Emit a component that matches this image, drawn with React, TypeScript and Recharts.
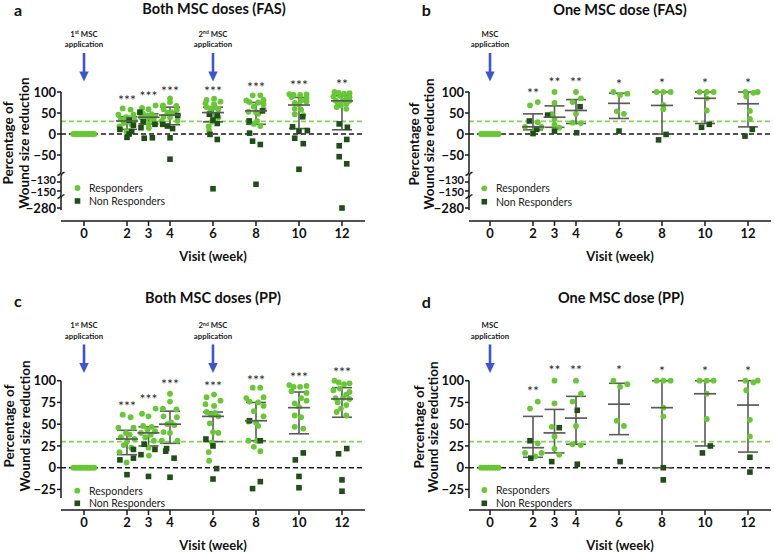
import React from 'react';
import { ScatterChart, Scatter, XAxis, YAxis, ReferenceLine, ReferenceDot, ErrorBar } from 'recharts';

const FONT = 'Lato, "Open Sans", "DejaVu Sans", sans-serif';
const LIGHT = '#67c734';
const DARK = '#1f4e16';
const BAR = '#5a5a5a';
const DASH_GREEN = '#84d456';
const BLUE = '#3c55d6';
const INK = '#1a1a1a';

type XY = [number, number];

// ---------- categories / ticks ----------
const visitTicks = [0, 2, 3, 4, 6, 8, 10, 12];
const summaryWeeks = [2, 3, 4, 6, 8, 10, 12];
const fasTicks = [100, 50, 0, -50, -130, -150, -280];
const ppTicks = [100, 75, 50, 25, 0, -25];

// ---------- week 0 (all wounds at 0 %) ----------
const bothBaselineX = [-0.5, -0.41, -0.32, -0.23, -0.14, -0.05, 0.05, 0.14, 0.23, 0.32, 0.41, 0.48];
const oneBaselineX = [-0.42, -0.3, -0.18, -0.06, 0.06, 0.18, 0.3, 0.4];

// ---------- both MSC doses: responders (x = visit with swarm spread, y = % reduction) ----------
const bothResponders: XY[] = [
  [1.8, 61], [2.17, 58], [1.6, 46], [2.3, 46], [1.95, 40], [2.12, 38], [1.72, 35], [2.35, 33], [2.0, 30], [1.85, 26], [2.2, 23], [1.65, 18], [1.98, 6],
  [3.33, 68], [2.7, 62], [3.0, 59], [2.75, 48], [3.15, 47], [2.95, 44], [3.3, 42], [2.65, 40], [3.1, 38], [2.85, 35], [3.25, 31], [3.0, 23], [3.02, 14],
  [4.0, 85], [4.0, 76], [3.67, 68], [4.3, 67], [3.7, 59], [4.32, 58], [4.05, 52], [3.88, 50], [4.2, 49], [3.7, 41], [4.0, 40], [3.62, 31], [4.35, 31],
  [6.05, 84], [5.7, 81], [6.35, 77], [5.65, 73], [6.05, 71], [5.7, 64], [6.1, 63], [5.9, 61], [6.25, 59], [5.85, 51], [6.0, 41], [6.25, 40], [5.95, 29], [5.8, 18], [5.82, 8],
  [7.85, 92], [8.2, 92], [8.35, 81], [7.55, 80], [7.7, 76], [8.1, 75], [8.35, 71], [7.9, 65], [8.35, 59], [7.65, 53], [8.0, 52], [8.1, 48], [7.65, 31], [8.05, 31], [7.9, 24], [8.2, 19],
  [9.55, 95], [10.35, 94], [9.75, 93], [10.05, 93], [9.65, 88], [10.35, 86], [10.1, 80], [10.35, 77], [9.8, 74], [10.0, 70], [9.8, 60], [10.1, 58], [9.8, 47], [10.2, 45],
  [11.65, 100], [11.85, 98], [12.35, 97], [12.1, 96], [11.9, 91], [11.6, 89], [12.35, 87], [12.2, 84], [11.7, 80], [12.05, 80], [12.35, 79], [11.8, 75], [12.2, 72], [11.95, 68], [11.75, 64], [12.2, 60],
];

// ---------- both MSC doses: non responders ----------
const bothNonRespFAS: XY[] = [
  [2.1, 33], [2.3, 21], [1.67, 11], [2.22, 6], [2.1, 0], [2.0, -8],
  [2.6, 52], [2.75, 29], [3.3, 23], [2.65, 15], [2.8, -10], [3.18, -9],
  [4.36, 44], [3.66, 23], [3.88, 19], [4.12, 13], [4.0, -9], [4.0, -60],
  [5.83, 47], [6.2, 44], [6.0, 33], [6.2, 25], [5.86, -1], [6.2, -13], [6.0, -145],
  [8.3, 55], [7.69, 31], [7.7, 2], [7.84, -17], [8.2, -25], [8.0, -135],
  [10.17, 41], [9.7, 17], [10.39, 8], [10.0, 6], [9.8, -10], [10.2, -23], [10.0, -84],
  [11.87, 24], [12.25, 16], [12.22, -13], [11.87, -28], [11.87, -54], [12.22, -71], [12.0, -280],
];
const bothNonRespPP: XY[] = [
  [2.3, 21], [2.3, 11], [1.67, 9], [2.0, -8],
  [2.8, 27], [3.3, 21], [2.65, 15], [3.0, -10],
  [3.84, 22], [3.8, 19], [4.19, 11], [4.0, -11],
  [5.67, 33], [6.0, 25], [6.17, -1], [6.0, -13],
  [7.7, 54], [8.2, 31], [8.2, -16], [7.84, -24],
  [10.2, 17], [9.83, 9], [10.0, -10], [10.0, -23],
  [12.22, 22], [11.84, 16], [12.0, -14], [12.0, -27],
];

// ---------- one MSC dose ----------
const oneResponders: XY[] = [
  [2.22, 76], [1.86, 68], [2.22, 28], [1.63, 17], [2.4, 17], [2.1, 13],
  [3.0, 100], [3.0, 74], [2.87, 47], [3.0, 36], [3.0, 22], [3.22, 15],
  [4.0, 100], [4.23, 85], [3.84, 76], [4.0, 48], [3.84, 27], [4.22, 26],
  [5.74, 100], [6.05, 93], [6.39, 96], [5.9, 54], [6.23, 48],
  [7.75, 100], [8.06, 100], [8.4, 100], [8.06, 69], [8.06, 59],
  [9.75, 100], [10.08, 100], [10.4, 100], [10.08, 85], [10.08, 56],
  [11.88, 100], [12.25, 98], [12.45, 100], [11.92, 89], [12.09, 55], [12.09, 36],
];
const oneNonRespFAS: XY[] = [
  [1.83, 31], [2.17, 11], [2.0, 1], [2.68, 45], [3.0, 7], [4.19, 65], [4.03, 3], [6.0, 7],
  [7.84, -14], [8.19, -1], [9.84, 16], [10.2, 23], [11.86, -5], [12.2, 11],
];
const oneNonRespPP: XY[] = [
  [1.86, 31], [1.9, 11], [3.22, 46], [2.87, 7], [4.06, 66], [4.06, 4], [6.05, 7],
  [8.06, 0], [8.06, -14], [9.88, 17], [10.25, 25], [12.09, 12], [12.09, -5],
];

// ---------- summaries (centre line with whiskers) per visit 2..12 ----------
const aMean = [31, 40, 45, 51, 55, 69, 79];
const aLow = [11, 24, 22, 29, 23, 13, 10];
const aHigh = [41, 48, 64, 64, 75, 87, 91];
const bMean = [17, 40, 56, 73, 68, 85, 72];
const bLow = [10, 16, 25, 37, 0, 25, 17];
const bHigh = [48, 67, 82, 97, 100, 100, 100];
const cMean = [33, 40, 50, 59, 54, 69, 79];
const cLow = [15, 25, 28, 30, 31, 39, 58];
const cHigh = [43, 47, 65, 64, 75, 87, 92];
const dMean = [23, 40, 57, 73, 69, 85, 72];
const dLow = [12, 17, 27, 38, 0, 25, 18];
const dHigh = [59, 67, 82, 97, 100, 100, 100];

// ---------- significance marks ----------
const aStars = ['***', '***', '***', '***', '***', '***', '**'];
const aStarY = [85.7, 95.2, 107.1, 107.1, 117.9, 121.4, 123.8];
const bStars = ['**', '**', '**', '*', '*', '*', '*'];
const bStarY = [102.4, 128.6, 128.6, 123.8, 126.2, 126.2, 126.2];
const cStars = ['***', '***', '***', '***', '***', '***', '***'];
const cStarY = [73.2, 81.3, 98.5, 96.2, 103.1, 106.6, 112.3];
const dStars = ['**', '**', '**', '*', '*', '*', '*'];
const dStarY = [90.5, 114.6, 114.6, 114.6, 113.4, 113.4, 113.4];

// broken axis mapping (FAS panels)
const breakDisplay = (v: number) => {
  if (v >= -100) return v;
  if (v >= -200) return -114.3 + (v + 130) * 1.07;
  return -176.2 + (v + 280) * 1.07;
};
const identity = (v: number) => v;
const fmt = (v: number) => (v < 0 ? `\u2212${Math.abs(v)}` : `${v}`);

type Line1 = { pre: string; sup?: string; post?: string };

const makeArrow = (l: Line1) => (props: any) => {
  const { cx, cy } = props;
  const fs = 7.8;
  return (
    <g>
      <line x1={cx} y1={cy - 28.5} x2={cx} y2={cy - 9} stroke={BLUE} strokeWidth={2.6} />
      <polygon points={`${cx - 4.7},${cy - 10} ${cx + 4.7},${cy - 10} ${cx},${cy}`} fill={BLUE} />
      <text x={cx} y={cy - 47.5 + 2.8} textAnchor="middle" fontFamily={FONT} fontWeight={700} fontSize={fs} fill={INK}>
        {l.pre}
        {l.sup ? <tspan dy={-2.6} fontSize={5}>{l.sup}</tspan> : null}
        {l.sup ? <tspan dy={2.6}>{l.post}</tspan> : null}
      </text>
      <text x={cx} y={cy - 37 + 2.8} textAnchor="middle" fontFamily={FONT} fontWeight={700} fontSize={fs} fill={INK}>
        application
      </text>
    </g>
  );
};

const circleShape = (p: any) => <circle cx={p.cx} cy={p.cy} r={2.9} fill={LIGHT} />;
const squareShape = (p: any) => <rect x={p.cx - 2.8} y={p.cy - 2.8} width={5.6} height={5.6} fill={DARK} />;
const meanShape = (p: any) => (
  <line x1={p.cx - 11} x2={p.cx + 11} y1={p.cy} y2={p.cy} stroke={BAR} strokeWidth={1.7} />
);
const starShape = (p: any) => (
  <text x={p.cx} y={p.cy + 7.2} textAnchor="middle" fontFamily={FONT} fontSize={14} fill="#2a2a2a">
    {p.payload.label}
  </text>
);
const hookDown = (p: any) => (
  <path d={`M ${p.cx} ${p.cy} Q ${p.cx} ${p.cy + 3.5} ${p.cx - 3.5} ${p.cy + 4.5}`} fill="none" stroke={INK} strokeWidth={1.5} />
);
const hookUp = (p: any) => (
  <path d={`M ${p.cx} ${p.cy} Q ${p.cx} ${p.cy - 3.5} ${p.cx + 3.5} ${p.cy - 4.5}`} fill="none" stroke={INK} strokeWidth={1.5} />
);

interface PanelCfg {
  left: number; top: number; width: number; height: number;
  margin: { top: number; right: number; bottom: number; left: number };
  xDomain: [number, number]; yDomain: [number, number];
  yTicks: number[]; transform: (v: number) => number;
  baselineX: number[]; responders: XY[]; nonResponders: XY[];
  mean: number[]; low: number[]; high: number[];
  stars: string[]; starY: number[];
  arrows: { x: number; line: Line1 }[]; arrowTip: number;
  segments: [number, number][]; hooksDown: number[]; hooksUp: number[];
  letter: string; letterPos: [number, number];
  title: string; titlePos: [number, number];
  yLabelX: [number, number]; yLabelY: number;
  xLabelPos: [number, number];
  legendX: number; legendTextX: number; legendY: [number, number];
}

function Panel(c: PanelCfg) {
  const tf = c.transform;
  const base = c.baselineX.map((x) => ({ x, y: 0 }));
  const R = c.responders.map(([x, y]) => ({ x, y: tf(y) }));
  const N = c.nonResponders.map(([x, y]) => ({ x, y: tf(y) }));
  const S = summaryWeeks.map((w, i) => ({ x: w, y: tf(c.mean[i]), err: [c.mean[i] - c.low[i], c.high[i] - c.mean[i]] }));
  const ST = summaryWeeks.map((w, i) => ({ x: w, y: c.starY[i], label: c.stars[i] }));
  const tickD = c.yTicks.map(tf);
  const rawOf = (v: number) => {
    let best = 0;
    tickD.forEach((t, i) => { if (Math.abs(t - v) < Math.abs(tickD[best] - v)) best = i; });
    return c.yTicks[best];
  };
  const YTick = (p: any) => {
    const raw = rawOf(p.payload.value);
    const tight = raw === -130 || raw === -150;
    const shift = raw === -130 ? -1.6 : raw === -150 ? 1.6 : 0;
    return (
      <text x={p.x} y={p.y + shift} dy="0.355em" textAnchor="end" fontFamily={FONT} fontWeight={700}
        fontSize={tight ? 11 : 13} fill="#111">
        {fmt(raw)}
      </text>
    );
  };
  const xmin = c.xDomain[0];
  const lfs = 10.5;
  return (
    <div style={{ position: 'absolute', left: c.left, top: c.top, width: c.width, height: c.height }}>
      <ScatterChart width={c.width} height={c.height} margin={c.margin}>
        <XAxis
          type="number" dataKey="x" domain={c.xDomain} ticks={visitTicks} interval={0} allowDataOverflow
          height={30} tickSize={5} tickMargin={3}
          axisLine={{ stroke: INK, strokeWidth: 1.5 }} tickLine={{ stroke: INK, strokeWidth: 1.5 }}
          tick={{ fill: '#111', fontSize: 13, fontWeight: 700, fontFamily: FONT }}
        />
        <YAxis
          type="number" dataKey="y" domain={c.yDomain} ticks={tickD} interval={0} allowDataOverflow
          width={45} tickSize={4} tickMargin={1} axisLine={false}
          tickLine={{ stroke: INK, strokeWidth: 1.5 }}
          tick={YTick}
        />
        <ReferenceLine y={30} stroke={DASH_GREEN} strokeWidth={1.6} strokeDasharray="5 3" />
        <ReferenceLine y={0} stroke={INK} strokeWidth={1.6} strokeDasharray="5 3" />
        {c.segments.map(([a, b], i) => (
          <ReferenceLine key={'s' + i} segment={[{ x: xmin, y: a }, { x: xmin, y: b }]} stroke={INK} strokeWidth={1.5} ifOverflow="visible" />
        ))}
        {c.hooksDown.map((y, i) => (
          <ReferenceDot key={'hd' + i} x={xmin} y={y} r={0} ifOverflow="visible" shape={hookDown} />
        ))}
        {c.hooksUp.map((y, i) => (
          <ReferenceDot key={'hu' + i} x={xmin} y={y} r={0} ifOverflow="visible" shape={hookUp} />
        ))}
        {c.arrows.map((a, i) => (
          <ReferenceDot key={'a' + i} x={a.x} y={c.arrowTip} r={0} ifOverflow="visible" shape={makeArrow(a.line)} />
        ))}
        <Scatter name="baseline" data={base} shape={circleShape} isAnimationActive={false} />
        <Scatter name="Responders" data={R} shape={circleShape} isAnimationActive={false} />
        <Scatter name="Non Responders" data={N} shape={squareShape} isAnimationActive={false} />
        <Scatter name="summary" data={S} shape={meanShape} isAnimationActive={false}>
          <ErrorBar dataKey="err" direction="y" width={10} stroke={BAR} strokeWidth={1.6} isAnimationActive={false} />
        </Scatter>
        <Scatter name="stars" data={ST} shape={starShape} isAnimationActive={false} />
      </ScatterChart>
      <svg width={c.width} height={c.height} style={{ position: 'absolute', left: 0, top: 0, pointerEvents: 'none' }}>
        <text x={c.letterPos[0]} y={c.letterPos[1]} fontFamily={FONT} fontWeight={700} fontSize={16} fill="#111">{c.letter}</text>
        <text x={c.titlePos[0]} y={c.titlePos[1]} textAnchor="middle" fontFamily={FONT} fontWeight={700} fontSize={14.5} fill="#111">{c.title}</text>
        <text x={c.yLabelX[0]} y={c.yLabelY} transform={`rotate(-90 ${c.yLabelX[0]} ${c.yLabelY})`} textAnchor="middle" fontFamily={FONT} fontWeight={700} fontSize={13.5} fill="#111">Percentage of</text>
        <text x={c.yLabelX[1]} y={c.yLabelY} transform={`rotate(-90 ${c.yLabelX[1]} ${c.yLabelY})`} textAnchor="middle" fontFamily={FONT} fontWeight={700} fontSize={13.5} fill="#111">Wound size reduction</text>
        <text x={c.xLabelPos[0]} y={c.xLabelPos[1]} textAnchor="middle" fontFamily={FONT} fontWeight={700} fontSize={13} fill="#111">Visit (week)</text>
        <circle cx={c.legendX} cy={c.legendY[0]} r={2.9} fill={LIGHT} />
        <rect x={c.legendX - 2.8} y={c.legendY[1] - 2.8} width={5.6} height={5.6} fill={DARK} />
        <text x={c.legendTextX} y={c.legendY[0] + 3.8} fontFamily={FONT} fontSize={lfs} fill="#222">Responders</text>
        <text x={c.legendTextX} y={c.legendY[1] + 3.8} fontFamily={FONT} fontSize={lfs} fill="#222">Non Responders</text>
      </svg>
    </div>
  );
}

const first: Line1 = { pre: '1', sup: 'st', post: ' MSC' };
const second: Line1 = { pre: '2', sup: 'nd', post: ' MSC' };
const single: Line1 = { pre: 'MSC' };

const fasY: [number, number] = [(134 - 221) / 0.42, (134 - 20) / 0.42];
const ppY: [number, number] = [-48.6, 175.5];

export default function App() {
  return (
    <div style={{ position: 'absolute', left: 0, top: 0, width: 774, height: 553, background: '#fff' }}>
      <Panel
        left={0} top={0} width={387} height={276}
        margin={{ top: 20, right: 22, bottom: 25, left: 16 }}
        xDomain={[-1.07, 13.07]} yDomain={fasY} yTicks={fasTicks} transform={breakDisplay}
        baselineX={bothBaselineX} responders={bothResponders} nonResponders={bothNonRespFAS}
        mean={aMean} low={aLow} high={aHigh} stars={aStars} starY={aStarY}
        arrows={[{ x: 0, line: first }, { x: 6, line: second }]} arrowTip={125}
        segments={[[100, -88], [-102, -143], [-155, -181]]} hooksDown={[-88, -143]} hooksUp={[-102, -155]}
        letter="a" letterPos={[14, 15.5]} title="Both MSC doses (FAS)" titlePos={[214, 14]}
        yLabelX={[13.4, 28.9]} yLabelY={143} xLabelPos={[213, 261]}
        legendX={77.5} legendTextX={89} legendY={[188, 201]}
      />
      <Panel
        left={387} top={0} width={387} height={276}
        margin={{ top: 20, right: 3, bottom: 25, left: 37 }}
        xDomain={[-0.977, 13.07]} yDomain={fasY} yTicks={fasTicks} transform={breakDisplay}
        baselineX={oneBaselineX} responders={oneResponders} nonResponders={oneNonRespFAS}
        mean={bMean} low={bLow} high={bHigh} stars={bStars} starY={bStarY}
        arrows={[{ x: 0, line: single }]} arrowTip={125}
        segments={[[100, -88], [-102, -143], [-155, -181]]} hooksDown={[-88, -143]} hooksUp={[-102, -155]}
        letter="b" letterPos={[34.7, 15.5]} title="One MSC dose (FAS)" titlePos={[233, 14.5]}
        yLabelX={[31.9, 47.2]} yLabelY={144} xLabelPos={[233, 260.5]}
        legendX={97.3} legendTextX={109} legendY={[188.3, 201.7]}
      />
      <Panel
        left={0} top={276} width={387} height={277}
        margin={{ top: 39, right: 22, bottom: 13, left: 16 }}
        xDomain={[-1.07, 13.07]} yDomain={ppY} yTicks={ppTicks} transform={identity}
        baselineX={bothBaselineX} responders={bothResponders} nonResponders={bothNonRespPP}
        mean={cMean} low={cLow} high={cHigh} stars={cStars} starY={cStarY}
        arrows={[{ x: 0, line: first }, { x: 6, line: second }]} arrowTip={108.9}
        segments={[[100, -34.8]]} hooksDown={[]} hooksUp={[]}
        letter="c" letterPos={[14, 30.7]} title="Both MSC doses (PP)" titlePos={[213, 26.5]}
        yLabelX={[14.4, 30.4]} yLabelY={150} xLabelPos={[213, 274.4]}
        legendX={77.3} legendTextX={89} legendY={[214.7, 227.3]}
      />
      <Panel
        left={387} top={276} width={387} height={277}
        margin={{ top: 39, right: 3, bottom: 13, left: 37 }}
        xDomain={[-0.977, 13.07]} yDomain={ppY} yTicks={ppTicks} transform={identity}
        baselineX={oneBaselineX} responders={oneResponders} nonResponders={oneNonRespPP}
        mean={dMean} low={dLow} high={dHigh} stars={dStars} starY={dStarY}
        arrows={[{ x: 0, line: single }]} arrowTip={108.9}
        segments={[[100, -34.8]]} hooksDown={[]} hooksUp={[]}
        letter="d" letterPos={[34.7, 32.3]} title="One MSC dose (PP)" titlePos={[234, 26.9]}
        yLabelX={[37.2, 51.2]} yLabelY={151} xLabelPos={[233, 274.4]}
        legendX={97.3} legendTextX={109} legendY={[214, 227.3]}
      />
    </div>
  );
}
